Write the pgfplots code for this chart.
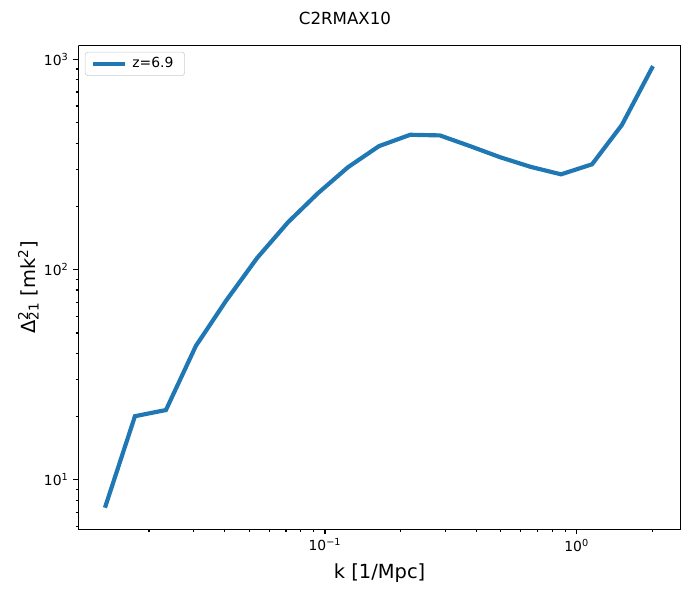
\documentclass[border=0pt]{standalone}
\usepackage{fontspec}
\setmainfont{DejaVu Sans}
\usepackage{pgfplots}
\pgfplotsset{compat=1.18}
\usetikzlibrary{calc}
\definecolor{mplblue}{HTML}{1F77B4}
\begin{document}
\begin{tikzpicture}
\begin{axis}[
  scale only axis, width=434pt, height=348pt,
  xmode=log, ymode=log,
  xmin=0.01047, xmax=2.597, ymin=5.84, ymax=1160,
  axis lines*=left,
  xtick={0.1,1}, xticklabels={10\textsuperscript{−1},10\textsuperscript{0}},
  ytick={10,100,1000}, yticklabels={10\textsuperscript{1},10\textsuperscript{2},10\textsuperscript{3}},
  minor xtick={0.02,0.03,0.04,0.05,0.06,0.07,0.08,0.09,0.2,0.3,0.4,0.5,0.6,0.7,0.8,0.9,2},
  minor ytick={6,7,8,9,20,30,40,50,60,70,80,90,200,300,400,500,600,700,800,900},
  tick align=outside,
  major tick length=3.5pt, minor tick length=2pt,
  tick style={black, line width=0.8pt},
  axis line style={line width=0.8pt, -},
  ticklabel style={font=\fontsize{10}{12}\selectfont},
  xlabel={k [1/Mpc]}, ylabel={Δ\rlap{\textsuperscript{2}}\textsubscript{21} [mk\textsuperscript{2}]},
  label style={font=\fontsize{14}{16}\selectfont},
  xlabel style={at={(axis description cs:0.5,-0.0913)}, anchor=center},
  ylabel style={at={(axis description cs:-0.083,0.5)}, anchor=center},
  legend style={at={(axis description cs:0.011,0.9876)}, anchor=north west, draw=black!20, rounded corners=2pt, font=\fontsize{10}{12}\selectfont, inner xsep=4pt, inner ysep=2pt},
  legend cell align=left,
  legend image code/.code={\draw[#1] (0pt,0pt) -- (23pt,0pt);},
  legend style={nodes={inner xsep=4pt}},
]
\addplot[mplblue, line width=3pt] table {
k P
0.01336 7.38
0.01758 20.1
0.02334 21.5
0.0307 43.4
0.0404 71.0
0.0537 113.5
0.0713 168
0.0938 231
0.1234 307
0.164 387
0.218 438
0.286 435
0.377 387
0.495 343
0.658 308
0.867 284
1.151 317
1.513 488
2.01 929
};
\addlegendentry{z=6.9}
\draw[line width=0.8pt, line cap=rect] (rel axis cs:0,1) -- (rel axis cs:1,1) -- (rel axis cs:1,0);
\end{axis}
\node[font=\fontsize{12}{14}\selectfont] at ($(current axis.south west)!0.4425!(current axis.south east) + (0,347pt*1.060)$) {C2RMAX10};
\path ($(current axis.south west)+(-56.4pt,-45.4pt)$) rectangle ($(current axis.south west)+(440.5pt,381pt)$);
\end{tikzpicture}
\end{document}
